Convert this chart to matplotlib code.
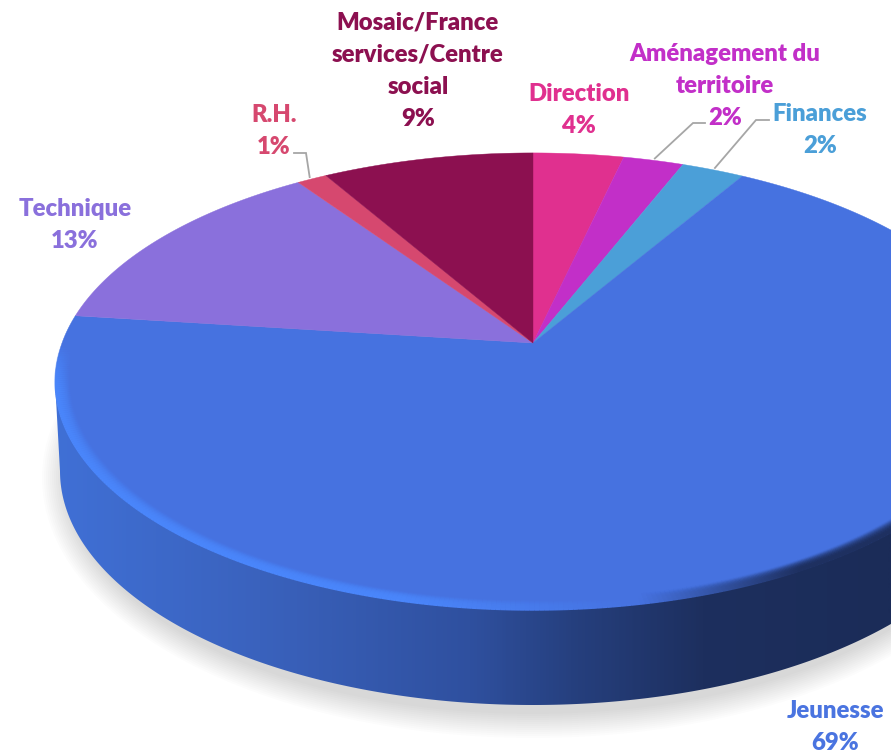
import matplotlib
matplotlib.use("Agg")
import matplotlib.pyplot as plt
import numpy as np
from matplotlib.collections import LineCollection
from matplotlib.colors import LinearSegmentedColormap, to_rgb
from matplotlib.patches import Ellipse, Polygon

# Clockwise from 12 o'clock
categories = ["Direction", "Aménagement du\nterritoire", "Finances", "Jeunesse",
              "Technique", "R.H.", "Mosaic/France\nservices/Centre\nsocial"]
shares = [3.6, 2.4, 2.5, 68.5, 13.4, 1.2, 8.4]
pct_labels = ["4%", "2%", "2%", "69%", "13%", "1%", "9%"]
colors = ["#e0308f", "#c22fc8", "#4b9fd8", "#4672e0", "#8a70dc", "#d6486f", "#8c1050"]

label_pos = [(579, 110), (725, 86), (820, 130), (835, 727), (75, 225), (274, 131), (418, 71)]
# elbow points of the grey leader lines, index -> points after the pie edge
leaders = {1: [(693, 123), (705, 123)], 2: [(756, 120), (769, 120)], 5: [(306, 153), (294, 153)]}

CX, CY = 533, 343
A, B, K = 471, 222, 0.168
TOP_Y = 381
TOP_RX, TOP_RY = 478, 228
BOT_Y = 471
BOT_RX, BOT_RY = 473, 234
LINE_STEP = 32.3


def project(pct, r=1.0):
    """Pie position (percent clockwise from top, radius) to picture pixels."""
    t = np.radians(np.asarray(pct) * 3.6)
    u, v = r * np.sin(t), -r * np.cos(t)
    d = 1 - K * v
    return CX + A * u / d, CY + B * v / d


def ring(y0, rx, ry, deg):
    t = np.radians(deg)
    return 533 + rx * np.cos(t), y0 + ry * np.sin(t)


fig = plt.figure(figsize=(8.91, 7.54), dpi=100)
ax = fig.add_axes([0, 0, 1, 1])
ax.set_axis_off()

# soft shadow under the pie
for g in range(26, 0, -2):
    ax.add_patch(Ellipse((533, BOT_Y + 7), 2 * (BOT_RX + g - 8), 2 * (BOT_RY + g),
                         color="black", alpha=0.011, lw=0, zorder=1))

# side wall with its left to right gradient
deg = np.linspace(180, 0, 300)
bx, by = ring(BOT_Y, BOT_RX, BOT_RY, deg)
tx, ty = ring(TOP_Y, TOP_RX, TOP_RY, deg[::-1])
wall = Polygon(np.r_[np.c_[bx, by], np.c_[tx, ty]], closed=True, transform=ax.transData, fc="none", lw=0)
ax.add_patch(wall)
wall_cmap = LinearSegmentedColormap.from_list("wall", [
    (0.0, "#4070d6"), (0.25, "#3a62bd"), (0.5, "#2f509f"), (0.62, "#26407f"),
    (0.78, "#1d2f5e"), (1.0, "#1b2c58")])
im = ax.imshow(np.linspace(0, 1, 500)[None, :], cmap=wall_cmap, extent=(50, 891, 720, 300),
               aspect="auto", zorder=2)
im.set_clip_path(wall)

# top face
start = 0.0
edges = []
for share, color in zip(shares, colors):
    pcts = np.linspace(start, start + share, max(int(share * 6), 4))
    x, y = project(pcts)
    pts = np.r_[[[CX, CY]], np.c_[x, y]]
    ax.add_patch(Polygon(pts, closed=True, fc=color, ec=color, lw=0.3, zorder=3))
    edges.append((start, start + share))
    start += share

# bevel along the front of the big slice: bright on the left, dark on the right
j0, j1 = edges[3]
pcts = np.linspace(j0, j1, 500)
light, base, dark = np.array(to_rgb("#4a86fb")), np.array(to_rgb("#4672e0")), np.array(to_rgb("#1e3060"))
n_layers = 14
for i in range(n_layers):
    r = 1 - 0.03 * (i + 0.5) / n_layers
    x, y = project(pcts, r)
    segs = np.stack([np.c_[x[:-1], y[:-1]], np.c_[x[1:], y[1:]]], axis=1)
    xm = (x[:-1] + x[1:]) / 2
    ym = (y[:-1] + y[1:]) / 2
    w_light = np.clip((640 - xm) / 240, 0, 1)
    w_dark = np.clip((xm - 640) / 160, 0, 1)
    seg_rgb = base + (light - base)[None, :] * w_light[:, None] + (dark - base)[None, :] * w_dark[:, None]
    # strongest a little inside the edge, nothing at the two back ends of the arc
    fall = np.clip(1.05 * (1 - i / n_layers) ** 1.2, 0, 1)
    ramp = np.clip((ym - 345) / 45, 0, 1)
    ramp = np.where(xm > 533, np.clip((ym - 440) / 60, 0, 1), ramp)
    alpha = (fall * ramp)[:, None]
    ax.add_collection(LineCollection(segs, colors=np.c_[seg_rgb, alpha], linewidths=1.8,
                                     capstyle="butt", zorder=4))

# leader lines
for idx, elbow in leaders.items():
    mid = (edges[idx][0] + edges[idx][1]) / 2
    x0, y0 = project(mid, 1.012)
    lx = [x0] + [p[0] for p in elbow]
    ly = [y0] + [p[1] for p in elbow]
    ax.plot(lx, ly, color="#a6a6a6", lw=1.3, zorder=5, solid_joinstyle="miter")

# labels, one text per line so the spacing follows the reference
for cat, pct, color, pos in zip(categories, pct_labels, colors, label_pos):
    label_color = "#4a74e0" if cat == "Jeunesse" else color
    lines = cat.split("\n") + [pct]
    for k, line in enumerate(lines):
        ax.text(pos[0], pos[1] + (k - (len(lines) - 1) / 2) * LINE_STEP, line, color=label_color,
                ha="center", va="center", family=["Lato", "DejaVu Sans"], fontweight="heavy",
                fontsize=17.2, zorder=6)

ax.set_xlim(0, 891)
ax.set_ylim(754, 0)
fig.savefig("out.png", dpi=100, facecolor="white")
